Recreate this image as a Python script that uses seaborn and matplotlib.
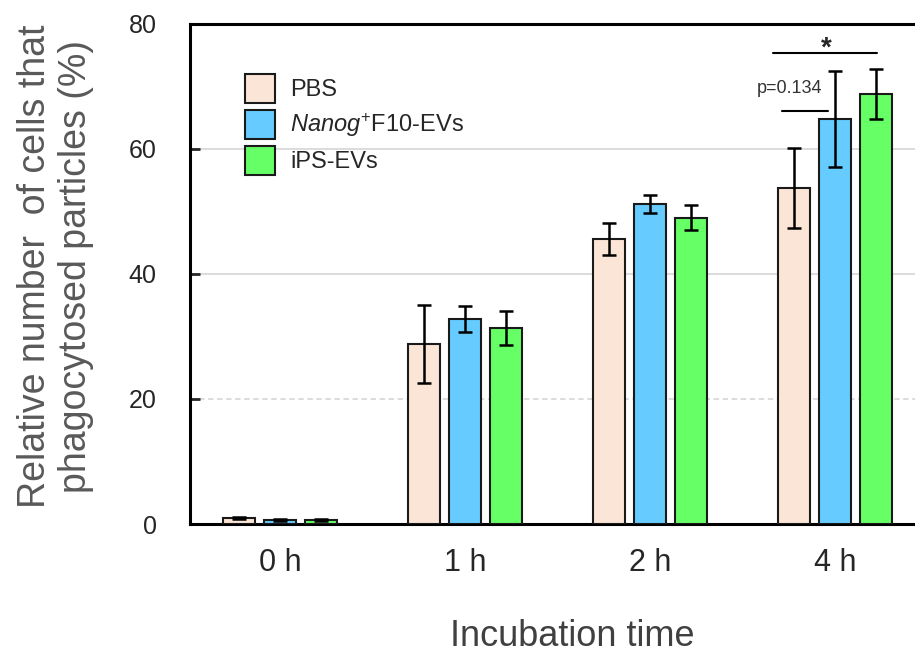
import numpy as np
import pandas as pd
import matplotlib
matplotlib.use("Agg")
import matplotlib.pyplot as plt
import seaborn as sns
from matplotlib.patches import Patch

# values (mean, sd)
times = ["0 h", "1 h", "2 h", "4 h"]
groups = ["PBS", "Nanog", "iPS"]
pbs_mean = [1.0, 28.8, 45.6, 53.8]
pbs_sd = [0.2, 6.3, 2.5, 6.4]
nanog_mean = [0.7, 32.8, 51.2, 64.8]
nanog_sd = [0.15, 2.0, 1.5, 7.7]
ips_mean = [0.7, 31.4, 49.0, 68.8]
ips_sd = [0.15, 2.7, 2.0, 4.0]
colors = ["#FBE5D6", "#66CCFF", "#66FF66"]
legend_labels = ["PBS", r"$\it{Nanog}^{+}$F10-EVs", "iPS-EVs"]

df = pd.DataFrame({"time": times * 3,
                   "group": np.repeat(groups, len(times)),
                   "value": pbs_mean + nanog_mean + ips_mean})

sns.set_style("white")
plt.rcParams['font.family'] = ['Liberation Sans', 'DejaVu Sans']
plt.rcParams['mathtext.fontset'] = 'custom'
plt.rcParams['mathtext.rm'] = 'Liberation Sans'
plt.rcParams['mathtext.it'] = 'Liberation Sans:italic'

fig = plt.figure(figsize=(9.15, 6.55), dpi=100)
ax = fig.add_axes([190/915, 131/655, 737.5/915, 500/655])

sns.barplot(data=df, x="time", y="value", hue="group", palette=colors,
            saturation=1, width=0.665, gap=0.2, edgecolor="#1a1a1a", linewidth=1.5,
            errorbar=None, legend=False, ax=ax, zorder=3)

# error bars on top of each bar
for cont, s in zip(ax.containers, [pbs_sd, nanog_sd, ips_sd]):
    xs = [b.get_x() + b.get_width() / 2 for b in cont]
    ys = [b.get_height() for b in cont]
    ax.errorbar(xs, ys, yerr=s, fmt='none', ecolor='black', elinewidth=1.8,
                capsize=5, capthick=1.8, zorder=4)

ax.set_xlim(-0.486, 3.5)
ax.set_ylim(0, 80)
ax.set_yticks([0, 20, 40, 60, 80])

for sp in ax.spines.values():
    sp.set_linewidth(2.2)
    sp.set_color("black")

ax.tick_params(axis='y', direction='in', length=7, width=2, pad=24,
               labelsize=18, labelcolor='#262626', left=True)
ax.tick_params(axis='x', length=0, pad=17, labelsize=22, labelcolor='#262626')

ax.grid(axis='y', color='#d9d9d9', lw=1.3)
ax.set_axisbelow(True)
gl = ax.yaxis.get_gridlines()
gl[1].set_linestyle((0, (3, 2)))

ax.set_ylabel("Relative number  of cells that\nphagocytosed particles (%)",
              fontsize=27, color='#595959', linespacing=1.18)
ax.yaxis.set_label_coords(-0.13, 0.515)
ax.set_xlabel("Incubation time", fontsize=26, color='#404040')
ax.xaxis.set_label_coords(0.518, -0.19)

handles = [Patch(facecolor=c, edgecolor='#1a1a1a', lw=1.5) for c in colors]
leg = ax.legend(handles, legend_labels, loc='upper left',
                bbox_to_anchor=(245/915, 1 - 74/655), bbox_transform=fig.transFigure,
                frameon=False, fontsize=17, handlelength=1.27, handleheight=1.5,
                labelspacing=0.3, handletextpad=0.64, borderpad=0, borderaxespad=0)
for t in leg.get_texts():
    t.set_color('#262626')

# significance annotations at 4 h
ax.plot([2.665, 3.227], [75.4, 75.4], color='black', lw=1.5, zorder=5)
ax.text(2.951, 76.0, "*", ha='center', va='center', fontsize=20, fontweight='bold')
ax.plot([2.714, 2.962], [66.1, 66.1], color='black', lw=1.5, zorder=5)
ax.text(2.757, 69.7, "p=0.134", ha='center', va='center', fontsize=13, color='#333333')

fig.savefig("out.png", dpi=100)
